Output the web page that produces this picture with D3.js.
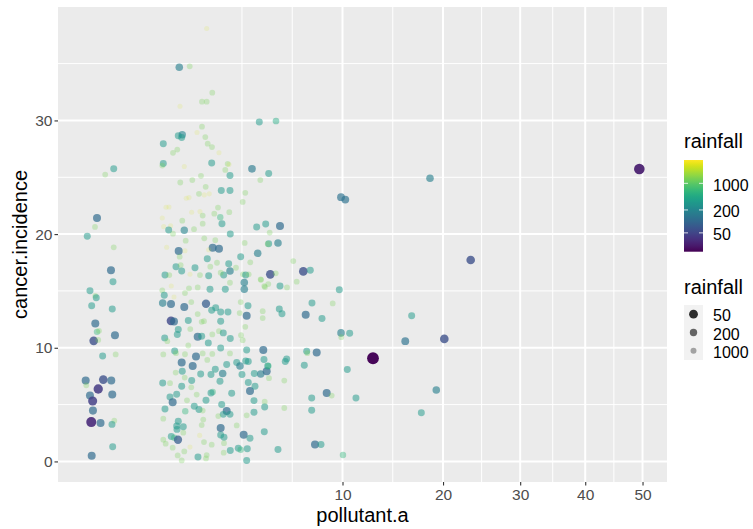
<!DOCTYPE html>
<html lang="en">
<head>
<meta charset="UTF-8">
<title>cancer.incidence vs pollutant.a</title>
<script src="https://d3js.org/d3.v7.min.js"></script>
<style>
  body { margin: 0; background: #fff; }
  svg { display: block; }
</style>
</head>
<body>
<svg id="chart" width="753" height="529"></svg>
<script>
// ---- data (x is jittered on the sqrt scale, so some sit just below 0) ----
const pollutantA = [
  // strip near zero
  0.033, 0.005, -0.0013, -0.0039, -0.0265, 0.033, 0.0213, 0.0296, -0.0163, -0.0034,
  -0.0021, -0.0111, 0.0265, -0.0034, -0.0013, -0.0001, 0.0392, -0.0063, -0.0004, 0.0014,
  0.0429, -0.0337, -0.031, 0.0021, 0.0225, -0.0004, -0.0163, 0.0265, -0.0086, -0.0079,
  -0.0123, 0.0001, 0.0357, 0.0253, 0.0283, -0.0111,
  // main cluster, top
  1.94, 1.073, 1.372, 2.149, 1.773, 1.94, 1.092, 4.319, 5.271, 1.773,
  1.604, 1.046, 1.155, 1.139, 1.89, 0.685, 1.977, 2.137, 1.02, 0.91,
  2.412, 0.685, 0.663, 1.212, 2.126, 2.777, 2.834, 2.674, 2.878, 1.739,
  3.933, 4.843, 1.10, 1.453, 1.904, 2.506, 2.878, 4.373,
  // main cluster, middle
  3.594, 3.467, 1.671, 1.854, 2.035, 1.351, 1.270, 0.744, 0.813, 2.372,
  1.434, 1.704, 1.797, 2.226, 2.847, 2.465, 2.535, 0.663, 1.155, 1.797,
  0.853, 0.693, 0.806, 1.212, 1.507, 0.910, 4.179, 4.673, 2.891, 1.854,
  1.253, 2.265, 3.564, 4.843, 0.760, 1.057, 2.164, 2.412, 1.232, 2.013,
  3.370, 4.233, 1.084, 1.962, 2.332, 3.845, 2.821, 0.986, 1.111, 1.539,
  2.073, 3.149, 2.606, 2.481, 2.878, 1.139, 0.722, 0.820, 1.704, 2.013,
  1.381, 3.481, 3.614, 3.764, 4.395, 2.878, 3.545, 4.820, 0.868, 1.627,
  1.351, 2.062, 2.674, 3.545, 4.594, 0.663, 0.706, 1.232, 0.935, 1.421,
  0.672, 0.861, 1.212, 1.915, 2.280, 2.126, 2.790, 3.370, 3.729, 2.481,
  1.627, 3.663, 3.323, 0.861, 0.935, 1.330, 1.843, 2.481, 4.505,
  // main cluster, bottom
  1.046, 1.390, 1.763, 3.594, 0.715, 0.774, 1.020, 1.627, 1.763, 2.149,
  2.412, 2.589, 2.891, 3.385, 3.467, 1.330, 1.999, 2.481, 0.952, 0.986,
  0.685, 1.232, 1.571, 1.797, 2.149, 2.878, 3.663, 4.538, 1.139, 1.465,
  1.962, 2.265, 3.182, 3.337, 3.614, 3.744, 2.734, 4.395, 4.729, 4.786,
  0.978, 1.155, 1.728, 2.099, 2.564, 3.433, 4.052, 1.434, 2.453, 3.744,
  0.672, 0.837, 1.224, 1.139, 1.421, 3.830, 4.089, 2.954, 1.004, 2.164,
  2.099, 1.915, 1.594, 0.837, 1.291, 0.902, 2.523, 4.037, 4.616, 0.722,
  1.516, 1.671, 1.241, 1.797, 2.734, 2.589, 2.878, 2.384, 3.663, 4.037,
  0.685, 1.818, 1.046, 1.012, 1.004, 1.184, 1.763, 2.481, 3.182, 0.685,
  0.868, 0.942, 1.038, 1.184, 1.694, 2.481, 2.619, 3.515, 3.830, 4.594,
  0.737, 0.902, 1.381, 1.843, 2.126, 2.619, 2.891, 2.606, 1.212, 1.030,
  1.139, 1.637, 1.940, 1.915, 3.257, 3.370, 3.693, 3.663,
  // 4 - 13
  9.877, 10.23, 5.513, 4.900, 4.786, 5.391, 6.356, 4.935, 5.253, 7.030,
  7.522, 4.411, 4.633, 5.513, 5.949, 6.582, 9.738, 7.644, 9.208, 4.505,
  5.470, 5.635, 7.197, 8.382, 9.877, 10.60, 9.901, 7.267, 7.309, 7.987,
  4.577, 5.930, 5.841, 7.100, 10.40, 12.67, 4.820, 4.860, 5.779, 8.740,
  9.129, 7.623, 11.14, 4.616, 5.779, 7.623, 7.862, 8.307, 5.391, 10.04,
  // far right
  18.51, 23.35, 16.51, 15.84, 20.15, 19.22, 17.55, 49.41
];

const cancerIncidence = [
  25.74, 25.24, 21.42, 20.63, 19.81, 18.84, 16.81, 15.81, 15.01, 14.57,
  14.40, 13.69, 13.40, 12.14, 11.40, 11.49, 11.11, 10.61, 10.69, 9.28,
  9.41, 7.11, 6.70, 7.20, 7.11, 6.37, 5.79, 5.88, 5.32, 4.47,
  3.46, 3.38, 3.59, 3.26, 1.30, 0.50,

  38.08, 34.68, 34.76, 32.44, 31.65, 31.65, 31.24, 29.86, 29.95, 29.45,
  28.94, 28.65, 28.74, 28.50, 28.54, 27.95, 27.95, 27.66, 27.44, 27.15,
  27.15, 26.21, 26.03, 25.95, 26.25, 26.18, 26.12, 25.65, 25.15, 25.13,
  25.74, 25.33, 24.54, 24.75, 24.16, 23.83, 23.83, 24.75,

  23.63, 22.83, 23.54, 23.45, 23.54, 23.21, 23.16, 22.37, 22.39, 22.33,
  21.93, 21.98, 21.63, 21.80, 21.93, 21.48, 20.92, 21.42, 21.18, 20.92,
  20.74, 20.66, 20.37, 20.34, 20.43, 20.04, 20.63, 20.89, 20.01, 19.63,
  19.42, 19.46, 19.22, 19.16, 18.84, 18.51, 18.80, 18.72, 18.54, 18.63,
  18.01, 18.31, 18.01, 17.83, 17.48, 17.52, 17.39, 17.13, 17.28, 17.04,
  17.13, 17.04, 16.40, 16.60, 16.75, 16.75, 16.40, 16.40, 16.40, 16.34,
  16.46, 16.46, 16.40, 16.46, 16.02, 15.72, 15.75, 15.60, 15.43, 15.31,
  15.23, 15.14, 15.14, 15.14, 15.43, 15.05, 14.61, 14.81, 14.46, 14.02,
  13.93, 13.84, 13.58, 13.87, 13.51, 13.31, 13.14, 14.02, 13.69, 13.14,
  12.96, 12.81, 13.05, 12.37, 12.32, 12.40, 12.34, 12.34, 13.22,

  11.61, 11.64, 12.28, 11.84, 10.87, 10.58, 11.17, 10.96, 11.02, 11.17,
  11.46, 11.31, 10.82, 11.11, 10.67, 10.20, 10.43, 9.99, 9.72, 9.52,
  9.41, 9.43, 9.23, 9.50, 9.46, 9.50, 9.81, 9.81, 8.70, 8.40,
  8.93, 8.11, 8.70, 8.40, 8.84, 8.79, 8.53, 7.70, 7.93, 8.40,
  7.82, 7.93, 7.70, 7.64, 7.73, 7.64, 7.73, 7.11, 7.05, 6.94,
  6.90, 6.88, 7.38, 6.61, 6.52, 6.20, 6.61, 5.99, 5.91, 6.11,
  6.02, 5.38, 5.88, 5.67, 5.38, 5.20, 5.00, 5.35, 5.26, 4.61,
  4.85, 4.56, 4.41, 4.47, 4.43, 4.14, 4.14, 3.99, 4.06, 4.32,
  3.76, 3.68, 3.53, 2.82, 3.11, 3.06, 3.20, 2.94, 3.17, 1.91,
  2.20, 2.09, 1.91, 2.53, 2.29, 2.32, 2.12, 2.35, 2.03, 2.62,
  1.56, 1.21, 1.26, 1.70, 1.47, 1.61, 0.97, 0.77, 0.88, 0.53,
  0.09, 0.38, 0.56, 0.26, 1.15, 1.03, 1.12, 0.09,

  23.25, 23.04, 20.72, 20.13, 19.13, 19.22, 17.63, 16.46, 16.55, 16.72,
  16.81, 15.98, 15.34, 15.43, 15.31, 15.81, 15.10, 13.93, 13.90, 12.61,
  13.40, 12.99, 12.90, 12.58, 11.31, 11.28, 10.93, 9.70, 9.52, 9.58,
  8.97, 9.02, 8.79, 8.46, 8.08, 9.08, 8.40, 7.32, 7.11, 6.02,
  5.79, 5.58, 5.58, 4.79, 4.70, 4.50, 1.50, 1.50, 1.06, 0.56,

  24.92, 17.72, 12.81, 10.58, 10.78, 6.29, 4.29, 25.72
];

const rainfall = [
  320, 1300, 110, 1300, 320, 1300, 110, 320, 320, 1300,
  320, 320, 320, 110, 600, 1300, 110, 60, 1300, 320,
  1300, 110, 1300, 60, 110, 40, 110, 110, 45, 110,
  30, 110, 1300, 320, 320, 110,

  3000, 170, 1300, 1300, 1300, 1300, 3000, 320, 450, 1300,
  3000, 320, 200, 320, 1300, 320, 1300, 1300, 1300, 1300,
  3000, 320, 1300, 3000, 320, 1300, 3000, 1300, 320, 1300,
  150, 320, 1300, 1300, 1300, 320, 320, 1300,

  1300, 1300, 1300, 3000, 3000, 3000, 3000, 3000, 3000, 1300,
  3000, 3000, 1300, 1300, 1300, 600, 320, 3000, 1300, 1300,
  3000, 3000, 320, 200, 1300, 1300, 320, 320, 320, 1300,
  1300, 1300, 1300, 320, 3000, 110, 110, 110, 3000, 3000,
  320, 170, 1300, 320, 1300, 1300, 320, 320, 1300, 320,
  1300, 1300, 320, 1300, 170, 320, 320, 1300, 1300, 320,
  3000, 1300, 320, 1300, 1300, 1300, 170, 1300, 3000, 1300,
  1300, 320, 320, 170, 1300, 1300, 320, 1300, 3000, 1300,
  170, 110, 110, 80, 320, 320, 320, 1300, 320, 320,
  1300, 110, 1300, 55, 110, 320, 1300, 320, 1300,

  320, 1300, 1300, 1300, 320, 1300, 320, 110, 320, 1300,
  1300, 320, 320, 1300, 1300, 1300, 320, 320, 320, 1300,
  1300, 1300, 110, 1300, 1300, 1300, 320, 110, 110, 110,
  1300, 320, 320, 170, 320, 320, 320, 170, 110, 320,
  1300, 320, 320, 320, 170, 320, 320, 320, 320, 320,
  320, 1300, 1300, 320, 1300, 110, 320, 320, 320, 600,
  320, 320, 1300, 320, 1300, 110, 320, 320, 1300, 320,
  320, 320, 600, 1300, 110, 320, 320, 1300, 1300, 320,
  1300, 1300, 320, 320, 320, 320, 1300, 110, 1300, 1300,
  320, 600, 80, 1300, 3000, 320, 320, 110, 320, 320,
  1300, 1300, 3000, 1300, 1300, 1300, 320, 1300, 1300, 1300,
  1300, 320, 1300, 1300, 320, 600, 320, 320,

  130, 130, 110, 1300, 1300, 170, 1300, 60, 1300, 60,
  320, 1300, 1300, 320, 1300, 1300, 320, 320, 1300, 1300,
  320, 320, 110, 320, 170, 320, 1300, 320, 1300, 110,
  320, 320, 320, 320, 320, 17, 600, 1300, 1300, 110,
  1300, 320, 320, 320, 1300, 320, 110, 320, 320, 600,

  170, 60, 320, 130, 60, 170, 320, 25
];

const xTicks = [10, 20, 30, 40, 50];
const yTicks = [0, 10, 20, 30];
const rainBreaks = [50, 200, 1000];
const rainLimits = [16, 4100];

const FONT = '"Liberation Sans", Arial, Helvetica, sans-serif';

// Dimensions and margins (panel area)
const margin = {top: 7, right: 86, bottom: 47, left: 58};
const width = 753 - margin.left - margin.right;
const height = 529 - margin.top - margin.bottom;

const data = pollutantA.map((v, i) => ({x: v, y: cancerIncidence[i], rain: rainfall[i]}));

// ggplot style 5% expansion, x done in sqrt space
const sroot = v => Math.sign(v) * Math.sqrt(Math.abs(v));
const ssq = v => Math.sign(v) * v * v;
const sx = d3.extent(data, d => sroot(d.x));
const padX = (sx[1] - sx[0]) * 0.05;
const yr = d3.extent(data, d => d.y);
const padY = (yr[1] - yr[0]) * 0.05;

const x = d3.scaleSqrt()
    .domain([ssq(sx[0] - padX), ssq(sx[1] + padX)])
    .range([0, width]);

const y = d3.scaleLinear()
    .domain([yr[0] - padY, yr[1] + padY])
    .range([height, 0]);

const color = d3.scaleSequentialLog(d3.interpolateViridis).domain(rainLimits);
const alpha = d3.scaleLog().domain(rainLimits).range([1, 0.1]).clamp(true);
const size = d3.scaleLog()
    .domain([16, 30, 50, 200, 1000, 4100])
    .range([6.0, 5.0, 4.4, 3.7, 3.0, 2.4])
    .clamp(true);

const svg = d3.select("#chart").attr("font-family", FONT);
const g = svg.append("g").attr("transform", `translate(${margin.left},${margin.top})`);

// panel background
g.append("rect").attr("width", width).attr("height", height).attr("fill", "#ebebeb");

// minor grid: midpoints between majors (plus one step below the first)
const xMajor = xTicks.map(d => x(d));
const step = xMajor[1] - xMajor[0];
let xMinor = [xMajor[0] - step, xMajor[0] - step / 2];
for (let i = 0; i < xMajor.length - 1; i++) xMinor.push((xMajor[i] + xMajor[i + 1]) / 2);
xMinor.push(xMajor[xMajor.length - 1] + step / 2);
xMinor = xMinor.filter(p => p >= 0 && p <= width);

const yMinor = [-5, 5, 15, 25, 35].map(d => y(d)).filter(p => p >= 0 && p <= height);

g.append("g").selectAll("line").data(xMinor).enter().append("line")
    .attr("x1", d => d).attr("x2", d => d).attr("y1", 0).attr("y2", height)
    .attr("stroke", "#fff").attr("stroke-width", 1);
g.append("g").selectAll("line").data(yMinor).enter().append("line")
    .attr("x1", 0).attr("x2", width).attr("y1", d => d).attr("y2", d => d)
    .attr("stroke", "#fff").attr("stroke-width", 1);

// major grid
g.append("g").selectAll("line").data(xTicks).enter().append("line")
    .attr("x1", d => x(d)).attr("x2", d => x(d)).attr("y1", 0).attr("y2", height)
    .attr("stroke", "#fff").attr("stroke-width", 2);
g.append("g").selectAll("line").data(yTicks).enter().append("line")
    .attr("x1", 0).attr("x2", width).attr("y1", d => y(d)).attr("y2", d => y(d))
    .attr("stroke", "#fff").attr("stroke-width", 2);

// points
g.append("g").selectAll("circle")
    .data(data)
    .enter()
    .append("circle")
    .attr("cx", d => x(d.x))
    .attr("cy", d => y(d.y))
    .attr("r", d => size(d.rain))
    .attr("fill", d => color(d.rain))
    .attr("fill-opacity", d => alpha(d.rain));

// axes
const xAxis = g.append("g")
    .attr("transform", `translate(0,${height})`)
    .call(d3.axisBottom(x).tickValues(xTicks).tickSize(3.5).tickPadding(3.5).tickFormat(d3.format("d")));
const yAxis = g.append("g")
    .call(d3.axisLeft(y).tickValues(yTicks).tickSize(3.5).tickPadding(2).tickFormat(d3.format("d")));

[xAxis, yAxis].forEach(ax => {
    ax.attr("font-family", FONT).attr("font-size", 15.5);
    ax.select(".domain").remove();
    ax.selectAll(".tick line").attr("stroke", "#333").attr("stroke-width", 1.1);
    ax.selectAll(".tick text").attr("fill", "#4d4d4d");
});

// axis titles
svg.append("text")
    .attr("x", margin.left + width / 2)
    .attr("y", 522)
    .attr("text-anchor", "middle")
    .attr("font-size", 20)
    .attr("fill", "#000")
    .text("pollutant.a");

svg.append("text")
    .attr("transform", `translate(26.5,${margin.top + height / 2}) rotate(-90)`)
    .attr("text-anchor", "middle")
    .attr("font-size", 20)
    .attr("fill", "#000")
    .text("cancer.incidence");

// ---- colour bar legend ----
const barX = 684, barW = 19, barTop = 160, barBottom = 251.7;
const barScale = d3.scaleLog().domain(rainLimits).range([barBottom, barTop]);

const grad = svg.append("defs").append("linearGradient")
    .attr("id", "rainGrad")
    .attr("x1", 0).attr("y1", 1).attr("x2", 0).attr("y2", 0);
const nStops = 30;
d3.range(nStops + 1).forEach(i => {
    const v = rainLimits[0] * Math.pow(rainLimits[1] / rainLimits[0], i / nStops);
    grad.append("stop").attr("offset", i / nStops).attr("stop-color", color(v));
});

svg.append("text")
    .attr("x", barX).attr("y", 148)
    .attr("font-size", 20).attr("fill", "#000")
    .text("rainfall");

svg.append("rect")
    .attr("x", barX).attr("y", barTop)
    .attr("width", barW).attr("height", barBottom - barTop)
    .attr("fill", "url(#rainGrad)");

rainBreaks.forEach(b => {
    const ty = barScale(b);
    svg.append("line").attr("x1", barX).attr("x2", barX + 4).attr("y1", ty).attr("y2", ty)
        .attr("stroke", "#fff").attr("stroke-opacity", 0.8).attr("stroke-width", 1);
    svg.append("line").attr("x1", barX + barW - 4).attr("x2", barX + barW).attr("y1", ty).attr("y2", ty)
        .attr("stroke", "#fff").attr("stroke-opacity", 0.8).attr("stroke-width", 1);
    svg.append("text")
        .attr("x", 713).attr("y", ty + 7.5)
        .attr("font-size", 16).attr("fill", "#000")
        .text(b);
});

// ---- size / alpha legend ----
svg.append("text")
    .attr("x", barX).attr("y", 294)
    .attr("font-size", 20).attr("fill", "#000")
    .text("rainfall");

const keyTop = 305, keyH = 55 / 3;
svg.append("rect")
    .attr("x", barX).attr("y", keyTop)
    .attr("width", barW).attr("height", keyH * rainBreaks.length)
    .attr("fill", "#f2f2f2");

rainBreaks.forEach((b, i) => {
    const cy = keyTop + keyH * (i + 0.5);
    svg.append("circle")
        .attr("cx", barX + barW / 2).attr("cy", cy)
        .attr("r", size(b))
        .attr("fill", "#000")
        .attr("fill-opacity", alpha(b));
    svg.append("text")
        .attr("x", 713).attr("y", cy + 7.3)
        .attr("font-size", 16).attr("fill", "#000")
        .text(b);
});
</script>
</body>
</html>
